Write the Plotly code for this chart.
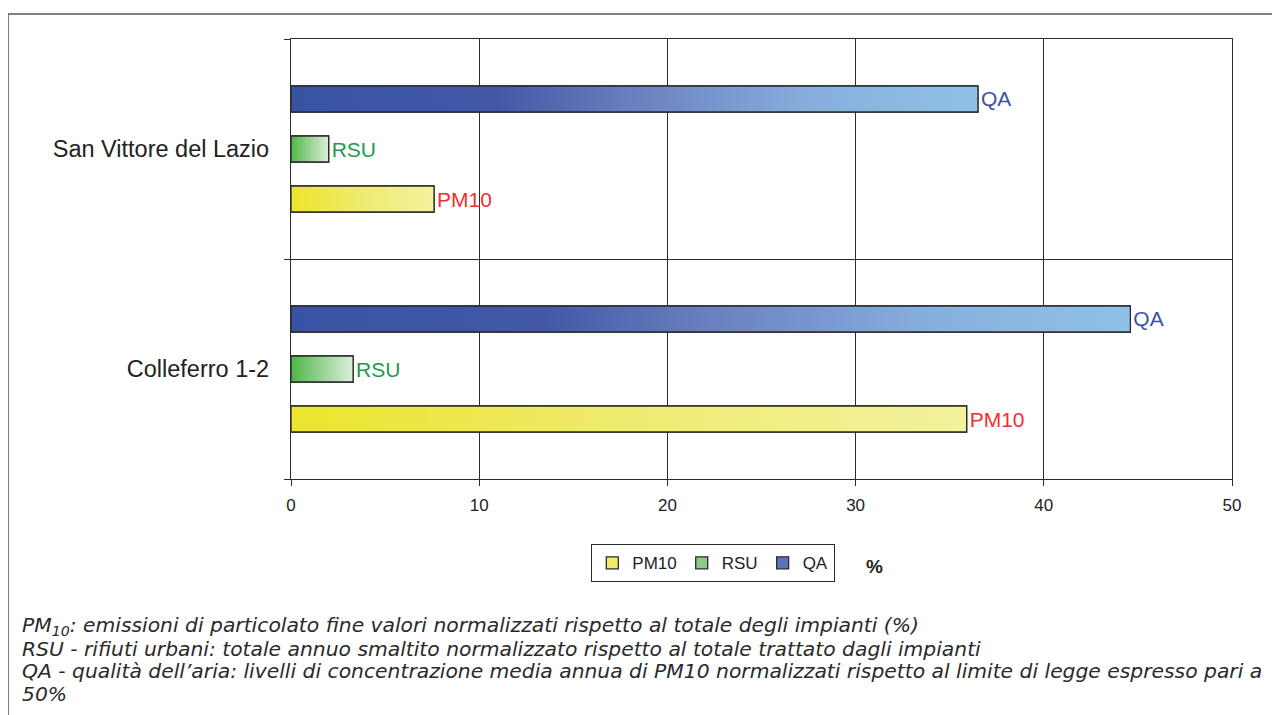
import plotly.graph_objects as go

# ---- data ----
categories = ["Colleferro 1-2", "San Vittore del Lazio"]
series_names = ["PM10", "RSU", "QA"]
pm10_values = [35.9, 7.6]
rsu_values = [3.3, 2.0]
qa_values = [44.6, 36.5]
x_ticks = [0, 10, 20, 30, 40, 50]
footer_lines = [
    "PM<sub>10</sub>: emissioni di particolato fine valori normalizzati rispetto al totale degli impianti (%)",
    "RSU - rifiuti urbani: totale annuo smaltito normalizzato rispetto al totale trattato dagli impianti",
    "QA - qualità dell’aria: livelli di concentrazione media annua di PM10 normalizzati rispetto al limite di legge espresso pari a",
    "50%",
]

# ---- styles ----
values = [pm10_values, rsu_values, qa_values]
legend_colors = ["#F0EC6A", "#8CCB86", "#5A74BA"]
label_colors = ["#EE3030", "#25994A", "#3A53A4"]
gradients = [
    [[0, "#ECE52B"], [0.5, "#EFEB70"], [1, "#F3F29E"]],
    [[0, "#4DB747"], [0.5, "#98D293"], [1, "#DCEFDA"]],
    [[0, "#3953A4"], [0.3, "#4258A7"], [0.5, "#6A80C0"], [0.75, "#86AEDD"], [1, "#90C1E8"]],
]
edge = "#2b2b2b"
BARGAP = 0.318
BARGROUPGAP = 0.48

fig = go.Figure()

# bar traces (structure, labels, legend)
for i, name in enumerate(series_names):
    fig.add_trace(go.Bar(
        y=categories, x=values[i], name=name, orientation="h",
        marker=dict(color=legend_colors[i], line=dict(color=edge, width=1.3)),
        text=[name] * len(categories), textposition="outside",
        textfont=dict(color=label_colors[i], size=21, family="Liberation Sans"),
        constraintext="none", cliponaxis=False, yaxis="y",
    ))

# gradient overlays, computed from the same values and bar geometry
slot = (1 - BARGAP) / len(series_names)
half = slot * (1 - BARGROUPGAP) / 2
for i, name in enumerate(series_names):
    for j, cat in enumerate(categories):
        v = values[i][j]
        cy = j + (i - (len(series_names) - 1) / 2) * slot
        fig.add_trace(go.Scatter(
            x=[0, v, v, 0, 0], y=[cy - half, cy - half, cy + half, cy + half, cy - half],
            mode="lines", fill="toself", line=dict(color=edge, width=1.3),
            fillgradient=dict(type="horizontal", colorscale=gradients[i]),
            showlegend=False, hoverinfo="skip", yaxis="y2",
        ))

# page offset (body margin) compensation: reference px -> figure px
OX, OY = 7, 7
W, H = 1280, 715
plot_l, plot_r, plot_t, plot_b = 290 - OX, 1231 - OX, 38 - OY, 478 - OY
L, R, T, B = plot_l, W - plot_r, plot_t, H - plot_b
pw, ph = plot_r - plot_l, plot_b - plot_t

def px(xref_px):
    return (xref_px - OX - plot_l) / pw

def py(yref_px):
    return (plot_b - (yref_px - OY)) / ph

fig.update_layout(
    width=W, height=H,
    margin=dict(l=L, r=R, t=T, b=B),
    paper_bgcolor="white", plot_bgcolor="white",
    barmode="group", bargap=BARGAP, bargroupgap=BARGROUPGAP,
    font=dict(family="Liberation Sans", color="#222"),
    xaxis=dict(range=[0, 50], tickvals=x_ticks, showgrid=True, gridcolor=edge, gridwidth=1.3,
               showline=True, linecolor=edge, linewidth=1.3, mirror=True,
               ticks="outside", ticklen=6, tickcolor=edge, tickfont=dict(size=17, color="#222"),
               zeroline=False, ticklabelstandoff=4),
    yaxis=dict(type="category", categoryorder="array", categoryarray=categories,
               range=[-0.5, 1.5], tickson="boundaries", ticks="outside", ticklen=6, tickcolor=edge,
               showgrid=True, gridcolor=edge, gridwidth=1.3,
               showline=True, linecolor=edge, linewidth=1.3, mirror=True,
               tickfont=dict(size=23.5, color="#222"), ticklabelstandoff=16),
    yaxis2=dict(overlaying="y", range=[-0.5, 1.5], visible=False),
    legend=dict(orientation="h", x=px(712), xanchor="center", y=py(543), yanchor="top",
                bordercolor=edge, borderwidth=1.3, font=dict(size=17, color="#222"),
                itemwidth=30, tracegroupgap=0),
    showlegend=True,
)

fig.add_annotation(text="<b>%</b>", x=px(873), y=py(565), xref="paper", yref="paper",
                   xanchor="center", yanchor="middle",
                   showarrow=False, font=dict(size=19, color="#222"))

footer_y = [625, 648, 670, 693]
for line, yy in zip(footer_lines, footer_y):
    fig.add_annotation(text="<i>" + line + "</i>", x=px(19), y=py(yy), xref="paper", yref="paper",
                       xanchor="left", yanchor="middle", showarrow=False, align="left",
                       font=dict(size=20.3, family="DejaVu Sans", color="#2a2a2a"))

# outer frame
fig.add_shape(type="rect", xref="paper", yref="paper",
              x0=px(7), x1=px(1300), y0=py(13), y1=py(740),
              line=dict(color="#555", width=1.5), fillcolor="rgba(0,0,0,0)", layer="below")

fig.write_html("out.html")
